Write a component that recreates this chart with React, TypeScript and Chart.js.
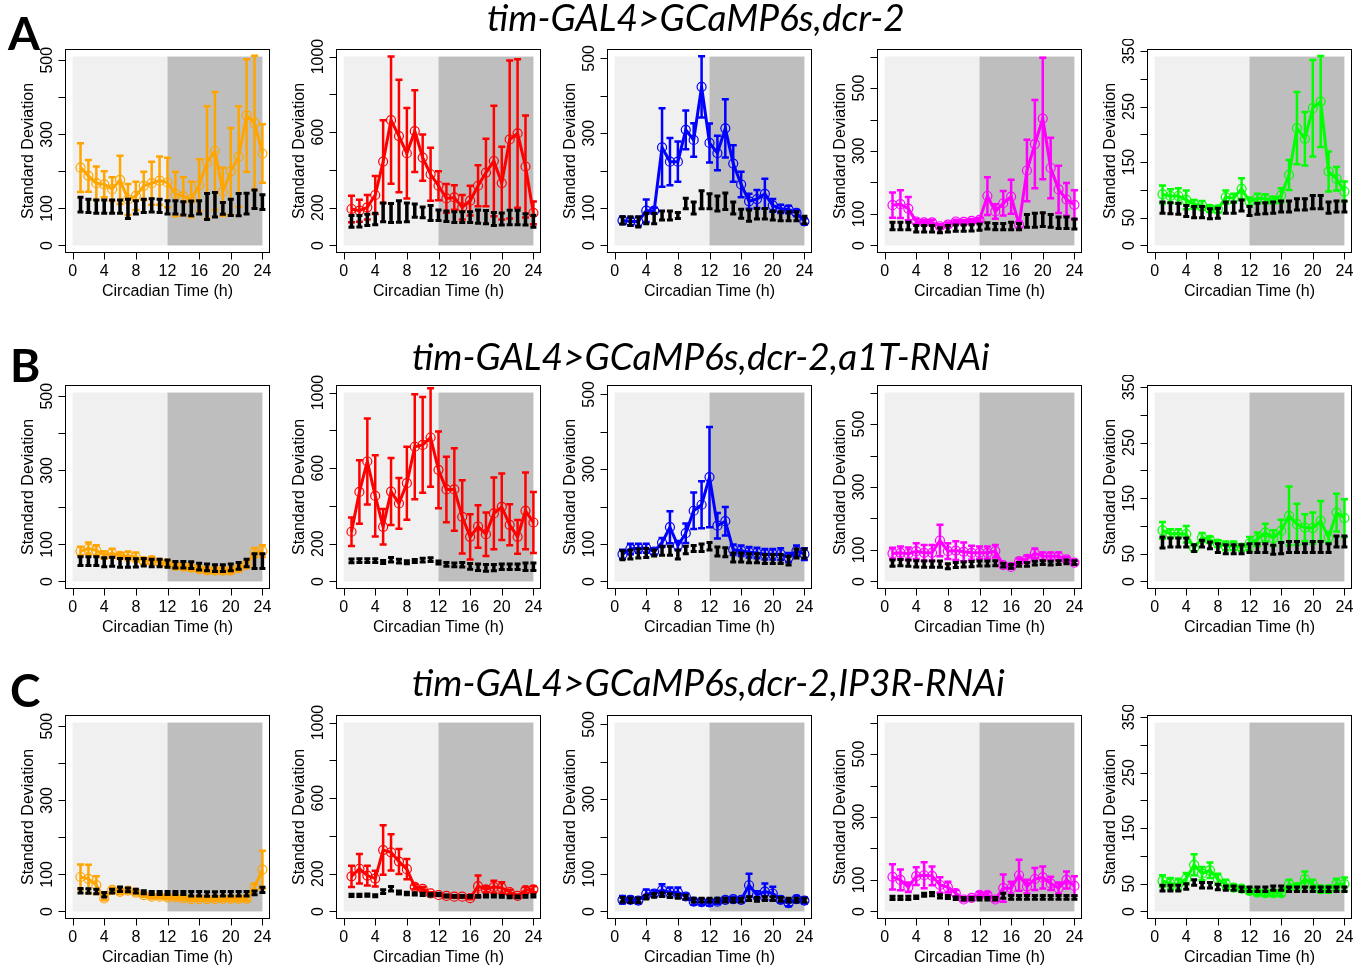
import React, { useEffect, useRef } from "react";
import { Chart, registerables } from "chart.js";
Chart.register(...registerables);

const hours = [1, 2, 3, 4, 5, 6, 7, 8, 9, 10, 11, 12, 13, 14, 15, 16, 17, 18, 19, 20, 21, 22, 23, 24];
const xTicks = [0, 4, 8, 12, 16, 20, 24];

// ---- Row A ----
const A1_mean = [210, 188, 168, 165, 152, 177, 124, 134, 161, 168, 175, 170, 139, 133, 124, 163, 224, 255, 145, 200, 240, 351, 331, 248];
const A1_err = [66, 43, 45, 35, 32, 65, 42, 38, 38, 58, 65, 67, 60, 51, 48, 70, 152, 159, 65, 117, 136, 152, 181, 79];
const A1_ctrl = [110, 107, 105, 105, 105, 105, 99, 103, 107, 108, 107, 103, 103, 100, 100, 103, 105, 110, 100, 103, 110, 113, 125, 117];
const A1_ctrlErr = [20, 18, 18, 18, 18, 18, 26, 18, 18, 18, 18, 18, 18, 18, 20, 18, 35, 33, 16, 22, 30, 28, 25, 20];

const A2_mean = [193, 184, 202, 267, 444, 663, 579, 488, 605, 465, 377, 316, 249, 254, 202, 237, 316, 386, 447, 330, 561, 593, 418, 172];
const A2_err = [70, 58, 65, 101, 219, 337, 298, 240, 216, 123, 140, 77, 76, 65, 65, 79, 109, 179, 293, 193, 418, 393, 270, 60];
const A2_ctrl = [127, 128, 135, 140, 175, 172, 180, 175, 184, 175, 172, 160, 155, 150, 150, 150, 152, 150, 140, 140, 148, 148, 138, 128];
const A2_ctrlErr = [31, 30, 30, 30, 50, 50, 57, 50, 35, 28, 40, 28, 28, 28, 28, 28, 35, 35, 35, 32, 38, 38, 30, 32];

const A3_mean = [67, 64, 64, 93, 93, 262, 224, 224, 309, 282, 424, 274, 247, 313, 219, 163, 118, 124, 138, 107, 98, 96, 87, 64];
const A3_err = [10, 10, 12, 30, 8, 105, 63, 54, 52, 45, 82, 52, 46, 78, 49, 34, 20, 24, 40, 17, 11, 10, 8, 8];
const A3_ctrl = [67, 65, 63, 72, 72, 80, 80, 80, 112, 100, 122, 118, 112, 118, 100, 85, 80, 85, 85, 80, 78, 78, 78, 68];
const A3_ctrlErr = [10, 12, 14, 14, 14, 12, 12, 8, 14, 16, 24, 20, 20, 22, 16, 12, 15, 14, 14, 12, 12, 12, 12, 10];

const A4_mean = [128, 131, 117, 76, 73, 73, 61, 66, 76, 75, 78, 81, 157, 108, 134, 155, 66, 238, 322, 403, 246, 178, 146, 129];
const A4_err = [40, 44, 37, 8, 7, 8, 6, 7, 6, 6, 6, 6, 60, 23, 39, 54, 10, 98, 140, 193, 96, 75, 52, 46];
const A4_ctrl = [62, 62, 62, 53, 53, 53, 48, 53, 55, 55, 56, 58, 62, 60, 60, 62, 60, 78, 80, 82, 78, 72, 72, 68];
const A4_ctrlErr = [12, 12, 12, 10, 10, 10, 8, 10, 10, 10, 10, 10, 10, 10, 10, 12, 10, 20, 22, 22, 20, 18, 18, 16];

const A5_mean = [92, 89, 89, 82, 74, 72, 66, 65, 87, 85, 102, 79, 85, 84, 81, 90, 127, 211, 192, 247, 259, 133, 120, 97];
const A5_err = [16, 12, 14, 17, 8, 8, 6, 6, 12, 8, 19, 7, 8, 8, 6, 13, 27, 65, 48, 87, 82, 36, 21, 18];
const A5_ctrl = [68, 67, 66, 62, 60, 60, 57, 58, 68, 68, 72, 62, 66, 67, 68, 70, 70, 74, 74, 78, 78, 68, 70, 70];
const A5_ctrlErr = [10, 10, 10, 10, 10, 10, 9, 9, 10, 10, 10, 8, 10, 10, 10, 10, 10, 10, 10, 12, 12, 10, 10, 10];

// ---- Row B ----
const B1_mean = [82, 89, 84, 71, 76, 69, 69, 66, 55, 57, 51, 49, 42, 40, 37, 33, 30, 29, 29, 29, 36, 45, 78, 82];
const B1_err = [12, 16, 14, 10, 12, 8, 12, 12, 8, 10, 8, 8, 8, 8, 8, 7, 7, 7, 7, 7, 8, 8, 12, 16];
const B1_ctrl = [55, 55, 55, 52, 53, 50, 50, 50, 52, 50, 50, 48, 45, 45, 44, 40, 38, 36, 36, 38, 42, 50, 55, 55];
const B1_ctrlErr = [12, 12, 12, 12, 12, 12, 12, 11, 10, 10, 10, 10, 9, 9, 9, 9, 9, 9, 9, 9, 9, 10, 20, 20];

const B2_mean = [263, 474, 635, 453, 289, 476, 413, 520, 713, 723, 762, 591, 487, 487, 342, 236, 291, 250, 360, 395, 300, 236, 374, 312];
const B2_err = [75, 168, 227, 215, 94, 177, 134, 193, 278, 254, 261, 203, 173, 218, 194, 120, 113, 115, 190, 176, 109, 89, 203, 162];
const B2_ctrl = [109, 110, 110, 110, 103, 115, 108, 102, 108, 113, 115, 100, 90, 88, 88, 80, 75, 72, 73, 78, 78, 78, 78, 78];
const B2_ctrlErr = [10, 10, 10, 10, 8, 12, 10, 8, 8, 10, 10, 8, 10, 10, 12, 15, 17, 18, 17, 15, 15, 15, 20, 20];

const B3_mean = [73, 87, 89, 89, 80, 104, 145, 96, 129, 189, 205, 279, 149, 161, 85, 82, 78, 76, 73, 73, 73, 64, 82, 73];
const B3_err = [12, 14, 12, 12, 8, 12, 43, 12, 26, 49, 63, 134, 34, 38, 14, 14, 14, 14, 14, 14, 16, 12, 14, 16];
const B3_ctrl = [70, 72, 75, 76, 76, 82, 82, 72, 84, 88, 90, 94, 80, 78, 64, 64, 62, 62, 60, 60, 60, 56, 75, 75];
const B3_ctrlErr = [12, 12, 12, 12, 8, 12, 12, 12, 10, 8, 10, 10, 12, 12, 12, 12, 12, 12, 12, 12, 12, 12, 12, 12];

const B4_mean = [89, 91, 88, 96, 91, 91, 130, 96, 98, 94, 91, 91, 91, 96, 52, 46, 65, 72, 89, 80, 80, 80, 70, 60];
const B4_err = [18, 20, 20, 25, 25, 25, 50, 25, 30, 30, 22, 20, 20, 20, 6, 6, 8, 10, 16, 12, 12, 12, 8, 6];
const B4_ctrl = [58, 60, 58, 56, 55, 55, 55, 48, 52, 54, 55, 57, 57, 58, 52, 48, 54, 54, 58, 60, 58, 60, 62, 60];
const B4_ctrlErr = [10, 10, 10, 10, 10, 10, 10, 8, 8, 8, 8, 8, 8, 8, 6, 6, 6, 6, 6, 6, 6, 6, 6, 6];

const B5_mean = [92, 86, 86, 85, 60, 79, 75, 68, 64, 64, 61, 68, 76, 88, 78, 91, 118, 103, 97, 96, 109, 79, 124, 114];
const B5_err = [15, 8, 8, 15, 6, 8, 6, 6, 8, 8, 6, 12, 12, 16, 14, 20, 53, 37, 24, 28, 36, 10, 34, 34];
const B5_ctrl = [70, 70, 70, 70, 60, 68, 65, 60, 58, 58, 58, 60, 60, 60, 57, 60, 62, 62, 60, 62, 62, 60, 72, 72];
const B5_ctrlErr = [10, 8, 8, 8, 6, 6, 6, 8, 8, 8, 8, 8, 8, 8, 8, 10, 10, 10, 8, 10, 10, 8, 10, 10];

// ---- Row C ----
const C1_mean = [93, 88, 71, 35, 58, 53, 56, 51, 44, 40, 40, 38, 38, 35, 33, 33, 33, 33, 34, 34, 34, 34, 66, 113];
const C1_err = [34, 38, 24, 5, 6, 6, 6, 5, 5, 5, 5, 5, 5, 5, 5, 5, 5, 5, 5, 5, 5, 5, 8, 51];
const C1_ctrl = [56, 55, 54, 45, 55, 60, 58, 55, 52, 50, 50, 50, 50, 50, 48, 48, 47, 47, 48, 48, 48, 48, 50, 58];
const C1_ctrlErr = [6, 6, 6, 6, 5, 6, 5, 5, 4, 4, 4, 4, 4, 4, 6, 6, 6, 6, 6, 6, 6, 6, 5, 7];

const C2_mean = [186, 226, 190, 174, 325, 313, 264, 224, 130, 120, 96, 87, 82, 78, 78, 70, 134, 117, 130, 125, 103, 82, 113, 117];
const C2_err = [56, 78, 52, 42, 131, 96, 66, 53, 13, 10, 6, 5, 5, 5, 5, 5, 56, 16, 33, 30, 12, 8, 16, 16];
const C2_ctrl = [85, 85, 86, 83, 105, 120, 100, 95, 93, 90, 88, 90, 82, 80, 80, 80, 80, 82, 82, 80, 77, 77, 80, 82];
const C2_ctrlErr = [6, 6, 6, 5, 10, 12, 8, 6, 6, 6, 6, 6, 5, 5, 5, 5, 5, 5, 5, 5, 5, 5, 5, 6];

const C3_mean = [31, 31, 29, 47, 48, 57, 51, 51, 40, 26, 25, 24, 26, 31, 33, 31, 70, 44, 53, 48, 31, 22, 33, 29];
const C3_err = [10, 8, 8, 12, 8, 16, 13, 13, 8, 8, 8, 8, 6, 6, 6, 6, 31, 10, 22, 18, 8, 8, 8, 8];
const C3_ctrl = [31, 30, 30, 38, 43, 45, 42, 40, 38, 30, 30, 30, 30, 30, 30, 30, 34, 32, 34, 34, 32, 30, 30, 30];
const C3_ctrlErr = [6, 6, 6, 5, 5, 5, 5, 5, 5, 5, 5, 5, 5, 5, 5, 5, 5, 5, 5, 5, 5, 5, 5, 5];

const C4_mean = [110, 100, 77, 112, 115, 113, 84, 77, 58, 38, 43, 53, 53, 38, 74, 74, 115, 79, 103, 108, 89, 74, 100, 81];
const C4_err = [40, 33, 15, 28, 41, 30, 25, 17, 10, 6, 6, 8, 8, 6, 43, 20, 49, 22, 35, 35, 21, 18, 27, 31];
const C4_ctrl = [43, 43, 43, 45, 53, 55, 48, 46, 42, 40, 40, 40, 40, 40, 50, 45, 45, 45, 45, 45, 45, 45, 45, 45];
const C4_ctrlErr = [5, 5, 5, 4, 5, 5, 5, 5, 4, 4, 4, 4, 4, 4, 8, 6, 6, 6, 6, 6, 6, 6, 6, 6];

const C5_mean = [55, 50, 49, 59, 84, 68, 74, 58, 49, 43, 41, 37, 34, 33, 33, 33, 49, 44, 58, 49, 40, 40, 49, 49];
const C5_err = [10, 10, 10, 10, 19, 12, 14, 10, 8, 5, 5, 5, 5, 5, 5, 5, 8, 6, 14, 8, 6, 6, 10, 12];
const C5_ctrl = [42, 42, 42, 45, 52, 47, 47, 44, 42, 42, 40, 40, 40, 40, 42, 42, 40, 40, 40, 40, 40, 40, 40, 40];
const C5_ctrlErr = [5, 5, 5, 5, 5, 5, 5, 5, 4, 4, 4, 4, 4, 4, 4, 4, 4, 4, 4, 4, 4, 4, 4, 4];

// column definitions: y-limit, tick values, labelled ticks, colour
const colYLim = [510, 1000, 505, 600, 340];
const colYTicks = [
  [0, 100, 200, 300, 400, 500],
  [0, 200, 400, 600, 800, 1000],
  [0, 100, 200, 300, 400, 500],
  [0, 100, 200, 300, 400, 500, 600],
  [0, 50, 100, 150, 200, 250, 300, 350],
];
const colYLabels = [
  [0, 100, 300, 500],
  [0, 200, 600, 1000],
  [0, 100, 300, 500],
  [0, 100, 300, 500],
  [0, 50, 150, 250, 350],
];
const colColors = ["#FFA500", "#FF0000", "#0000FF", "#FF00FF", "#00FF00"];

const rowTitles = ["tim-GAL4>GCaMP6s,dcr-2", "tim-GAL4>GCaMP6s,dcr-2,a1T-RNAi", "tim-GAL4>GCaMP6s,dcr-2,IP3R-RNAi"];
const rowLetters = ["A", "B", "C"];

const panelData = [
  [[A1_mean, A1_err, A1_ctrl, A1_ctrlErr], [A2_mean, A2_err, A2_ctrl, A2_ctrlErr], [A3_mean, A3_err, A3_ctrl, A3_ctrlErr], [A4_mean, A4_err, A4_ctrl, A4_ctrlErr], [A5_mean, A5_err, A5_ctrl, A5_ctrlErr]],
  [[B1_mean, B1_err, B1_ctrl, B1_ctrlErr], [B2_mean, B2_err, B2_ctrl, B2_ctrlErr], [B3_mean, B3_err, B3_ctrl, B3_ctrlErr], [B4_mean, B4_err, B4_ctrl, B4_ctrlErr], [B5_mean, B5_err, B5_ctrl, B5_ctrlErr]],
  [[C1_mean, C1_err, C1_ctrl, C1_ctrlErr], [C2_mean, C2_err, C2_ctrl, C2_ctrlErr], [C3_mean, C3_err, C3_ctrl, C3_ctrlErr], [C4_mean, C4_err, C4_ctrl, C4_ctrlErr], [C5_mean, C5_err, C5_ctrl, C5_ctrlErr]],
];

// layout (page pixels)
const BOX_LEFT = [65, 336, 607, 877, 1147];
const BOX_TOP = [49, 385, 715];
const BOX_W = 205;
const BOX_H = 204;
const PAD = { left: 62, right: 8, top: 10, bottom: 52 };
const FONT = "'Liberation Sans', Arial, Helvetica, sans-serif";

function drawBars(ctx: CanvasRenderingContext2D, mean: number[], err: number[], xs: any, ys: any, color: string, lw: number, capLw: number, cap: number) {
  ctx.strokeStyle = color;
  ctx.lineCap = "butt";
  for (let i = 0; i < mean.length; i++) {
    const px = xs.getPixelForValue(hours[i]);
    const lo = ys.getPixelForValue(mean[i] - err[i]);
    const hi = ys.getPixelForValue(mean[i] + err[i]);
    ctx.lineWidth = lw;
    ctx.beginPath();
    ctx.moveTo(px, lo);
    ctx.lineTo(px, hi);
    ctx.stroke();
    ctx.lineWidth = capLw;
    ctx.beginPath();
    ctx.moveTo(px - cap, lo);
    ctx.lineTo(px + cap, lo);
    ctx.moveTo(px - cap, hi);
    ctx.lineTo(px + cap, hi);
    ctx.stroke();
  }
}

function Panel({ row, col }: { row: number; col: number }) {
  const ref = useRef<HTMLCanvasElement>(null);
  const W = BOX_W + PAD.left + PAD.right;
  const H = BOX_H + PAD.top + PAD.bottom;
  useEffect(() => {
    const [mean, err, ctrl, ctrlErr] = panelData[row][col];
    const color = colColors[col];
    const L = colYLim[col];
    const plugin = {
      id: "rpanel",
      beforeDatasetsDraw(chart: any) {
        const { ctx, chartArea: a } = chart;
        const xs = chart.scales.x;
        const ys = chart.scales.y;
        ctx.save();
        const y0 = ys.getPixelForValue(0);
        const yt = ys.getPixelForValue(L);
        const x0 = xs.getPixelForValue(0);
        const x12 = xs.getPixelForValue(12);
        const x24 = xs.getPixelForValue(24);
        ctx.fillStyle = "#F0F0F0";
        ctx.fillRect(x0, yt, x12 - x0, y0 - yt);
        ctx.fillStyle = "#BEBEBE";
        ctx.fillRect(x12, yt, x24 - x12, y0 - yt);
        ctx.beginPath();
        ctx.rect(a.left, a.top, a.right - a.left, a.bottom - a.top);
        ctx.clip();
        drawBars(ctx, mean, err, xs, ys, color, 2.5, 2.5, 3.5);
        ctx.restore();
      },
      afterDatasetsDraw(chart: any) {
        const { ctx, chartArea: a } = chart;
        const xs = chart.scales.x;
        const ys = chart.scales.y;
        ctx.save();
        ctx.beginPath();
        ctx.rect(a.left, a.top, a.right - a.left, a.bottom - a.top);
        ctx.clip();
        drawBars(ctx, ctrl, ctrlErr, xs, ys, "#000000", 3.5, 3, 3);
        ctx.restore();

        ctx.save();
        ctx.strokeStyle = "#000";
        ctx.lineWidth = 1;
        ctx.strokeRect(a.left + 0.5, a.top + 0.5, a.right - a.left - 1, a.bottom - a.top - 1);
        ctx.fillStyle = "#000";
        ctx.font = `16px ${FONT}`;
        // x axis
        const bx = Math.round(a.bottom) - 0.5;
        ctx.beginPath();
        ctx.moveTo(xs.getPixelForValue(0), bx);
        ctx.lineTo(xs.getPixelForValue(24), bx);
        for (const t of xTicks) {
          const px = Math.round(xs.getPixelForValue(t)) + 0.5;
          ctx.moveTo(px, bx);
          ctx.lineTo(px, bx + 7);
        }
        ctx.stroke();
        ctx.textAlign = "center";
        ctx.textBaseline = "middle";
        for (const t of xTicks) {
          ctx.fillText(String(t), xs.getPixelForValue(t), a.bottom + 19);
        }
        ctx.fillText("Circadian Time (h)", (a.left + a.right) / 2, a.bottom + 39);
        // y axis
        const lx = Math.round(a.left) + 0.5;
        const ticks = colYTicks[col];
        ctx.beginPath();
        ctx.moveTo(lx, ys.getPixelForValue(ticks[0]));
        ctx.lineTo(lx, ys.getPixelForValue(ticks[ticks.length - 1]));
        for (const t of ticks) {
          const py = Math.round(ys.getPixelForValue(t)) + 0.5;
          ctx.moveTo(lx, py);
          ctx.lineTo(lx - 7, py);
        }
        ctx.stroke();
        for (const t of colYLabels[col]) {
          ctx.save();
          ctx.translate(a.left - 17, ys.getPixelForValue(t));
          ctx.rotate(-Math.PI / 2);
          ctx.fillText(String(t), 0, 0);
          ctx.restore();
        }
        ctx.save();
        ctx.translate(a.left - 36, (a.top + a.bottom) / 2);
        ctx.rotate(-Math.PI / 2);
        ctx.fillText("Standard Deviation", 0, 0);
        ctx.restore();
        ctx.restore();
      },
    };
    const chart = new Chart(ref.current as HTMLCanvasElement, {
      type: "line",
      data: {
        datasets: [
          {
            data: hours.map((h, i) => ({ x: h, y: mean[i] })),
            borderColor: color,
            borderWidth: 3,
            pointRadius: 4.5,
            pointBorderWidth: 1.2,
            pointBorderColor: color,
            pointBackgroundColor: "rgba(0,0,0,0)",
            pointStyle: "circle",
            tension: 0,
            fill: false,
          },
          {
            data: hours.map((h, i) => ({ x: h, y: ctrl[i] })),
            showLine: false,
            pointRadius: 0,
            borderColor: "#000",
          },
        ],
      },
      options: {
        animation: false,
        responsive: false,
        events: [],
        layout: { padding: PAD },
        plugins: { legend: { display: false }, tooltip: { enabled: false } },
        scales: {
          x: { type: "linear", min: -0.96, max: 24.96, display: false },
          y: { type: "linear", min: -0.04 * L, max: 1.04 * L, display: false },
        },
      },
      plugins: [plugin],
    } as any);
    return () => chart.destroy();
  }, [row, col]);
  return (
    <canvas
      ref={ref}
      width={W}
      height={H}
      style={{ position: "absolute", left: BOX_LEFT[col] - PAD.left, top: BOX_TOP[row] - PAD.top, width: W, height: H }}
    />
  );
}

const TITLE_LEFT = [487, 412, 412];
const TITLE_WIDTH = [418, 573, 588];
const TITLE_BASE = [31, 370, 696];
const LETTER_BASE = [50, 382, 707];
const LETTER_LEFT = [8, 10, 10];

function fitSize(text: string, target: number) {
  const c = document.createElement("canvas").getContext("2d") as CanvasRenderingContext2D;
  c.font = "italic 100px Lato";
  return (100 * target) / c.measureText(text).width;
}

export default function App() {
  const titleSize = fitSize(rowTitles[0], TITLE_WIDTH[0]);
  return (
    <div style={{ position: "absolute", left: 0, top: 0, width: 1367, height: 969, background: "#fff", overflow: "hidden" }}>
      {[0, 1, 2].map((r) => [0, 1, 2, 3, 4].map((c) => <Panel key={`${r}-${c}`} row={r} col={c} />))}
      <svg width={1367} height={969} style={{ position: "absolute", left: 0, top: 0, pointerEvents: "none" }}>
        {rowTitles.map((t, i) => (
          <text key={t} x={TITLE_LEFT[i]} y={TITLE_BASE[i]} fontFamily="Lato" fontStyle="italic" fontSize={titleSize} fill="#000">
            {t}
          </text>
        ))}
        {rowLetters.map((t, i) => (
          <text key={t} x={LETTER_LEFT[i]} y={LETTER_BASE[i]} fontFamily="Lato" fontWeight="bold" fontSize={46} fill="#000">
            {t}
          </text>
        ))}
      </svg>
    </div>
  );
}
